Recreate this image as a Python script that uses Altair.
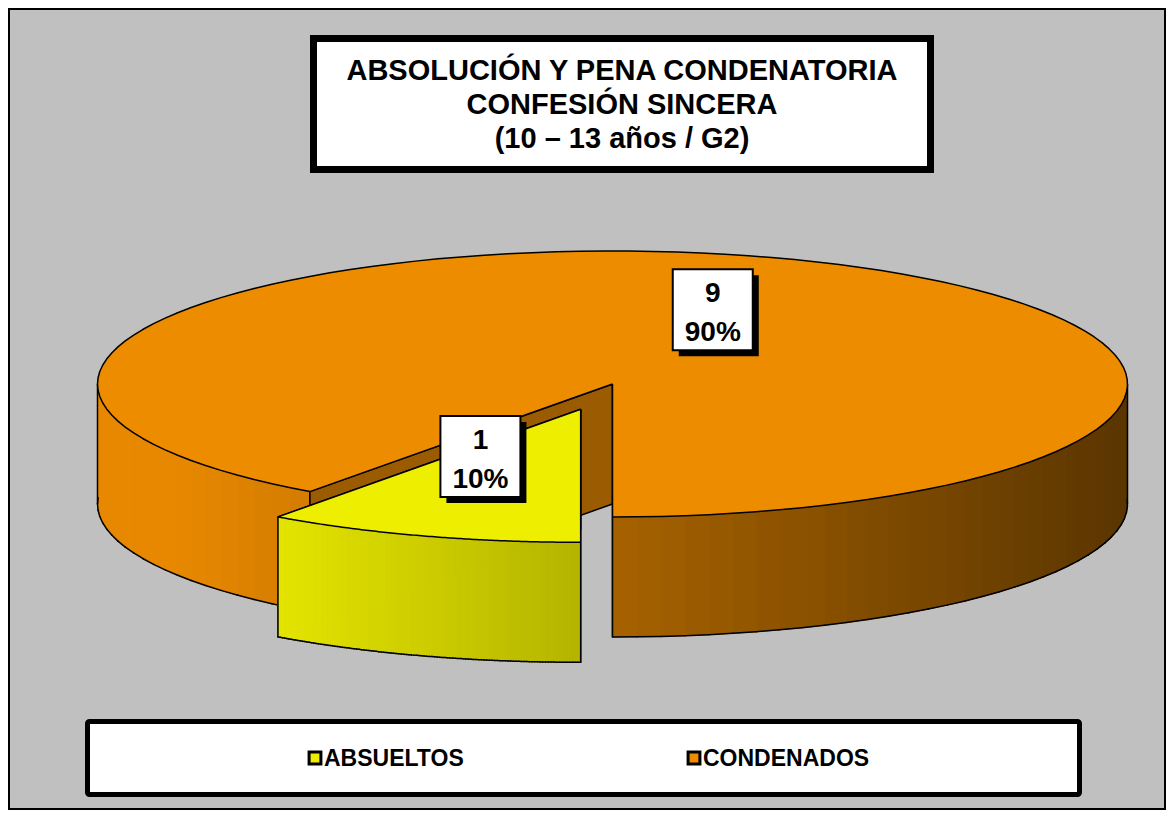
import altair as alt
import pandas as pd

# ---------------- data ----------------
CATEGORIES = ["ABSUELTOS", "CONDENADOS"]
VALUES = [1, 9]
TITLE_LINES = ["ABSOLUCIÓN Y PENA CONDENATORIA", "CONFESIÓN SINCERA", "(10 – 13 años / G2)"]

# ---------------- style / layout ----------------
TOP_COLORS = ["#EEEE00", "#EE8C00"]
BASE_R = [238, 238]
BASE_G = [238, 140]
BASE_B = [0, 0]
SIDE_GAIN = [1.08, 1.0]
EXPLODE = [0.2, 0.0]
DRAW_ORDER = ["CONDENADOS", "ABSUELTOS"]
BG = "#C0C0C0"
FONT = "Liberation Sans"

W, H = 1158, 802
CX, CY = 604.5, 376.0
RX, RY = 515.0, 133.0
DEPTH = 120.0
NSEG = 120
LRX, LRY, LDY = 0.63, 0.48, -13.5
LEG_X0, LEG_STEP, LEG_Y = 307.0, 379.0, 750.0
TITLE_X, TITLE_Y0, TITLE_DY = 614.0, 72.0, 34.0

df = pd.DataFrame({"cat": CATEGORIES, "value": VALUES, "idx": list(range(len(CATEGORIES)))})
title_df = pd.DataFrame({"line": TITLE_LINES, "i": list(range(len(TITLE_LINES)))})

xs = alt.Scale(domain=[0, W], nice=False, zero=False)
ys = alt.Scale(domain=[0, H], nice=False, zero=False, reverse=True)


def X(f):
    return alt.X(f, type="quantitative", scale=xs, axis=None)


def Y(f):
    return alt.Y(f, type="quantitative", scale=ys, axis=None)


fill_scale = alt.Scale(domain=CATEGORIES, range=TOP_COLORS)

base = (
    alt.Chart(df)
    .transform_joinaggregate(total="sum(value)")
    .transform_window(cum="sum(value)", sort=[alt.SortField("idx", order="ascending")])
    .transform_calculate(
        t0="PI/2 + 2*PI*(datum.cum - datum.value)/datum.total",
        t1="PI/2 + 2*PI*datum.cum/datum.total",
    )
    .transform_calculate(
        tm="(datum.t0 + datum.t1)/2",
        ex=f"{EXPLODE}[datum.idx]",
        R=f"{BASE_R}[datum.idx]",
        G=f"{BASE_G}[datum.idx]",
        B=f"{BASE_B}[datum.idx]",
        gain=f"{SIDE_GAIN}[datum.idx]",
    )
    .transform_calculate(
        ox=f"{CX} + datum.ex*{RX}*cos(datum.tm)",
        oy=f"{CY} + datum.ex*{RY}*sin(datum.tm)",
    )
)


def only(ch, cat):
    return ch.transform_filter(f"datum.cat == '{cat}'")


def top_face(cat):
    ch = (
        base.transform_calculate(j=f"sequence(0, {NSEG + 3})")
        .transform_flatten(["j"])
        .transform_calculate(
            a=f"datum.t0 + (datum.t1 - datum.t0)*clamp(datum.j - 1, 0, {NSEG})/{NSEG}",
            apex=f"datum.j == 0 || datum.j == {NSEG + 2}",
        )
        .transform_calculate(
            px=f"datum.apex ? datum.ox : datum.ox + {RX}*cos(datum.a)",
            py=f"datum.apex ? datum.oy : datum.oy + {RY}*sin(datum.a)",
        )
    )
    return only(ch, cat).mark_line(stroke="black", strokeWidth=1.5, strokeJoin="round").encode(
        x=X("px"), y=Y("py"), order=alt.Order("j:Q"),
        fill=alt.Fill("cat:N", scale=fill_scale, legend=None),
        detail="cat:N",
    )


def side_base():
    return (
        base.transform_calculate(s=f"sequence(0, {NSEG})")
        .transform_flatten(["s"])
        .transform_calculate(
            a0=f"datum.t0 + (datum.t1 - datum.t0)*datum.s/{NSEG}",
            a1=f"datum.t0 + (datum.t1 - datum.t0)*(datum.s + 1)/{NSEG}",
        )
        .transform_calculate(am="(datum.a0 + datum.a1)/2")
        .transform_filter("sin(datum.am) > -0.03")
    )


def side_fill(cat):
    ch = (
        side_base()
        .transform_calculate(f="clamp((0.70 - 0.32*cos(datum.am))*datum.gain, 0, 0.97)")
        .transform_calculate(
            col="'rgb(' + round(datum.R*datum.f) + ',' + round(datum.G*datum.f) + ',' + round(datum.B*datum.f) + ')'",
            k="[0, 1, 2, 3, 4]",
        )
        .transform_flatten(["k"])
        .transform_calculate(
            ak="(datum.k == 1 || datum.k == 2) ? datum.a1 : datum.a0",
            dk=f"(datum.k == 2 || datum.k == 3) ? {DEPTH} : 0",
        )
        .transform_calculate(
            px=f"datum.ox + {RX}*cos(datum.ak)",
            py=f"datum.oy + {RY}*sin(datum.ak) + datum.dk",
        )
    )
    return only(ch, cat).mark_line(strokeWidth=1).encode(
        x=X("px"), y=Y("py"), order=alt.Order("k:Q"),
        fill=alt.Fill("col:N", scale=None),
        stroke=alt.Stroke("col:N", scale=None),
        detail=["cat:N", "s:Q"],
    )


def bottom_rules(cat):
    ch = side_base().transform_calculate(
        bx0=f"datum.ox + {RX}*cos(datum.a0)",
        by0=f"datum.oy + {RY}*sin(datum.a0) + {DEPTH}",
        bx1=f"datum.ox + {RX}*cos(datum.a1)",
        by1=f"datum.oy + {RY}*sin(datum.a1) + {DEPTH}",
    )
    return only(ch, cat).mark_rule(color="black", strokeWidth=1.5, strokeCap="round").encode(
        x=X("bx0"), y=Y("by0"), x2="bx1:Q", y2="by1:Q"
    )


def vertical_rules(cat):
    ch = (
        base.transform_calculate(cand="[datum.t0, datum.t1, PI, 2*PI]")
        .transform_flatten(["cand"])
        .transform_filter(
            "datum.cand >= datum.t0 - 1e-6 && datum.cand <= datum.t1 + 1e-6 && sin(datum.cand) > -1e-6"
        )
        .transform_calculate(
            vx=f"datum.ox + {RX}*cos(datum.cand)",
            vy=f"datum.oy + {RY}*sin(datum.cand)",
        )
        .transform_calculate(vy2=f"datum.vy + {DEPTH}")
    )
    return only(ch, cat).mark_rule(color="black", strokeWidth=1.5).encode(
        x=X("vx"), y=Y("vy"), y2="vy2:Q"
    )


def cut_faces(cat):
    ch = (
        base.transform_calculate(e="[0, 1]")
        .transform_flatten(["e"])
        .transform_calculate(
            ae="datum.e == 0 ? datum.t0 : datum.t1",
            col="'rgb(' + round(datum.R*0.65) + ',' + round(datum.G*0.65) + ',' + round(datum.B*0.65) + ')'",
            k="[0, 1, 2, 3, 4]",
        )
        .transform_flatten(["k"])
        .transform_calculate(
            rim="(datum.k == 1 || datum.k == 2) ? 1 : 0",
            dk=f"(datum.k == 2 || datum.k == 3) ? {DEPTH} : 0",
        )
        .transform_calculate(
            px=f"datum.ox + datum.rim*{RX}*cos(datum.ae)",
            py=f"datum.oy + datum.rim*{RY}*sin(datum.ae) + datum.dk",
        )
    )
    return only(ch, cat).mark_line(stroke="black", strokeWidth=1.5, strokeJoin="round").encode(
        x=X("px"), y=Y("py"), order=alt.Order("k:Q"),
        fill=alt.Fill("col:N", scale=None),
        detail=["cat:N", "e:Q"],
    )


slice_layers = []
for c in DRAW_ORDER:
    slice_layers += [cut_faces(c), side_fill(c), bottom_rules(c), vertical_rules(c), top_face(c)]

# ---------------- data labels ----------------
lab = base.transform_calculate(
    lx=f"datum.ox + {LRX}*{RX}*cos(datum.tm)",
    ly=f"datum.oy + {LRY}*{RY}*sin(datum.tm) + {LDY}",
    pct="format(datum.value/datum.total, '.0%')",
).transform_calculate(
    bx0="datum.lx - 40", bx1="datum.lx + 40",
    by0="datum.ly - 40.5", by1="datum.ly + 40.5",
    sx0="datum.lx - 34", sx1="datum.lx + 46",
    sy0="datum.ly - 34.5", sy1="datum.ly + 46.5",
    t1y="datum.ly - 8", t2y="datum.ly + 31",
)
lab_shadow = lab.mark_rect(color="black").encode(x=X("sx0"), x2="sx1:Q", y=Y("sy0"), y2="sy1:Q")
lab_box = lab.mark_rect(fill="white", stroke="black", strokeWidth=2).encode(
    x=X("bx0"), x2="bx1:Q", y=Y("by0"), y2="by1:Q")
lab_t1 = lab.mark_text(font=FONT, fontSize=28, fontWeight="bold", color="black",
                       align="center", baseline="alphabetic").encode(
    x=X("lx"), y=Y("t1y"), text="value:Q")
lab_t2 = lab.mark_text(font=FONT, fontSize=28, fontWeight="bold", color="black",
                       align="center", baseline="alphabetic").encode(
    x=X("lx"), y=Y("t2y"), text="pct:N")

# ---------------- title box ----------------
one = alt.Chart(pd.DataFrame({"k": [0]}))
title_box = one.mark_rect(fill="white", stroke="black", strokeWidth=7).encode(
    x=alt.value(305.5), x2=alt.value(922.5), y=alt.value(30.5), y2=alt.value(161.5))
title_txt = alt.Chart(title_df).transform_calculate(
    tx=f"{TITLE_X}", ty=f"{TITLE_Y0} + datum.i*{TITLE_DY}"
).mark_text(font=FONT, fontSize=29, fontWeight="bold", color="black",
            align="center", baseline="alphabetic").encode(
    x=X("tx"), y=Y("ty"), text="line:N")

# ---------------- legend ----------------
legend_box = one.mark_rect(fill="white", stroke="black", strokeWidth=5, cornerRadius=2).encode(
    x=alt.value(79.5), x2=alt.value(1071.5), y=alt.value(713.5), y2=alt.value(786.5))
leg = alt.Chart(df).transform_calculate(
    gx=f"{LEG_X0} + datum.idx*{LEG_STEP}",
    gy=f"{LEG_Y}",
).transform_calculate(tx="datum.gx + 9")
leg_sym = leg.mark_square(size=140, stroke="black", strokeWidth=3, opacity=1, filled=True).encode(
    x=X("gx"), y=Y("gy"), fill=alt.Fill("cat:N", scale=fill_scale, legend=None))
leg_txt = leg.mark_text(font=FONT, fontSize=23, fontWeight="bold", color="black",
                        align="left", baseline="middle", dy=1).encode(
    x=X("tx"), y=Y("gy"), text="cat:N")

chart = alt.layer(
    *slice_layers, lab_shadow, lab_box, lab_t1, lab_t2,
    title_box, title_txt, legend_box, leg_sym, leg_txt
).properties(
    width=W, height=H, padding=0, autosize=alt.AutoSizeParams(type="none"),
    background=BG,
).configure_view(stroke="black", strokeWidth=4, fill=BG)

chart.save("out.html", embed_options={"renderer": "svg", "actions": False})
